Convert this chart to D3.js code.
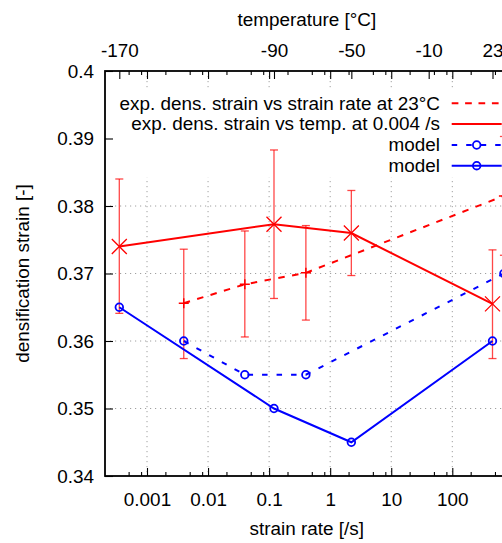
<!DOCTYPE html>
<html>
<head>
<meta charset="utf-8">
<script src="https://cdn.jsdelivr.net/npm/d3@7"></script>
<style>
  html, body { margin: 0; padding: 0; background: #fff; overflow: hidden; }
  svg { display: block; }
  text { font-family: "Liberation Sans", Arial, sans-serif; }
</style>
</head>
<body>
<svg id="chart" width="502" height="543"></svg>
<script>
// ---- data ----
const strainRates   = [0.004, 0.04, 0.4, 700];
const rateExp       = [0.3656, 0.3684, 0.3701, 0.3815];
const rateExpLow    = [0.3574, 0.3606, 0.3631, 0.3727];
const rateExpHigh   = [0.3736, 0.3763, 0.3771, 0.3903];
const rateModel     = [0.360, 0.355, 0.355, 0.370];

const temperatures  = [-170, -90, -50, 23];
const tempExp       = [0.3740, 0.3773, 0.3760, 0.3655];
const tempExpLow    = [0.3641, 0.3663, 0.3697, 0.3574];
const tempExpHigh   = [0.3840, 0.3883, 0.3823, 0.3735];
const tempModel     = [0.365, 0.350, 0.345, 0.360];

const xTickValues   = [0.001, 0.01, 0.1, 1, 10, 100];
const xTickLabels   = ["0.001", "0.01", "0.1", "1", "10", "100"];
const xMinorTicks   = [0.0005, 0.0008, 0.002, 0.005, 0.008, 0.02, 0.05, 0.08,
                       0.2, 0.5, 0.8, 2, 5, 8, 20, 50, 80, 200, 500];
const x2TickValues  = [-170, -90, -50, -10, 23];
const x2TickLabels  = ["-170", "-90", "-50", "-10", "23"];
const yTickValues   = [0.34, 0.35, 0.36, 0.37, 0.38, 0.39, 0.40];
const yTickLabels   = ["0.34", "0.35", "0.36", "0.37", "0.38", "0.39", "0.4"];

const legendLabels  = ["exp. dens. strain vs strain rate at 23°C",
                       "exp. dens. strain vs temp. at 0.004 /s",
                       "model", "model"];

// ---- layout ----
const P = { left: 105, right: 508.5, top: 71, bottom: 476 };
const FS = "18.9px";
const RED = "#ff0000", BLUE = "#0000ff";

const svg = d3.select("#chart");

const x  = d3.scaleLog().domain([1e-3, 100]).range([147, 452.3]);
const x2 = d3.scaleLinear().domain([-170, 23]).range([119.3, 492.5]);
const y  = d3.scaleLinear().domain([0.34, 0.40]).range([P.bottom, P.top]);

// ---- grid ----
const grid = svg.append("g").attr("stroke", "#a0a0a0").attr("stroke-width", 1)
  .attr("stroke-dasharray", "1.2,3.8");
grid.selectAll("line.v").data(xTickValues).join("line").attr("class", "v")
  .attr("x1", d => x(d)).attr("x2", d => x(d)).attr("y1", P.top).attr("y2", P.bottom);
grid.selectAll("line.h").data(yTickValues.slice(1, -1)).join("line").attr("class", "h")
  .attr("x1", P.left).attr("x2", P.right).attr("y1", d => y(d)).attr("y2", d => y(d));

// ---- legend background (opaque key) ----
svg.append("rect").attr("x", 108).attr("y", 90).attr("width", 400).attr("height", 87)
  .attr("fill", "#fff");

// ---- error bars ----
function errorBars(g, xs, lows, highs) {
  const cap = 4;
  xs.forEach((xv, i) => {
    g.append("line").attr("x1", xv).attr("x2", xv).attr("y1", y(lows[i])).attr("y2", y(highs[i]));
    g.append("line").attr("x1", xv - cap).attr("x2", xv + cap).attr("y1", y(lows[i])).attr("y2", y(lows[i]));
    g.append("line").attr("x1", xv - cap).attr("x2", xv + cap).attr("y1", y(highs[i])).attr("y2", y(highs[i]));
  });
}
const eb = svg.append("g").attr("stroke", RED).attr("stroke-width", 1.3).attr("stroke-opacity", 0.72);
errorBars(eb, strainRates.map(d => x(d)), rateExpLow, rateExpHigh);
errorBars(eb, temperatures.map(d => x2(d)), tempExpLow, tempExpHigh);

// ---- lines ----
const line = d3.line();
const ptsRate = (vals) => strainRates.map((d, i) => [x(d), y(vals[i])]);
const ptsTemp = (vals) => temperatures.map((d, i) => [x2(d), y(vals[i])]);

svg.append("path").attr("d", line(ptsRate(rateExp))).attr("fill", "none")
  .attr("stroke", RED).attr("stroke-width", 2).attr("stroke-dasharray", "6.5,7.5");
svg.append("path").attr("d", line(ptsTemp(tempExp))).attr("fill", "none")
  .attr("stroke", RED).attr("stroke-width", 2);
svg.append("path").attr("d", line(ptsRate(rateModel))).attr("fill", "none")
  .attr("stroke", BLUE).attr("stroke-width", 2).attr("stroke-dasharray", "5.5,9");
svg.append("path").attr("d", line(ptsTemp(tempModel))).attr("fill", "none")
  .attr("stroke", BLUE).attr("stroke-width", 2);

// ---- markers ----
const mk = svg.append("g");
ptsRate(rateExp).forEach(([px, py]) => {
  const s = 5;
  mk.append("path").attr("d", `M${px - s},${py}H${px + s}M${px},${py - s}V${py + s}`)
    .attr("stroke", RED).attr("stroke-width", 1.5).attr("fill", "none");
});
ptsTemp(tempExp).forEach(([px, py]) => {
  const s = 7.5;
  mk.append("path").attr("d", `M${px - s},${py - s}L${px + s},${py + s}M${px - s},${py + s}L${px + s},${py - s}`)
    .attr("stroke", RED).attr("stroke-width", 1.3).attr("fill", "none");
});
[...ptsRate(rateModel), ...ptsTemp(tempModel)].forEach(([px, py]) => {
  mk.append("circle").attr("cx", px).attr("cy", py).attr("r", 3.8)
    .attr("fill", "none").attr("stroke", BLUE).attr("stroke-width", 1.8);
});

// ---- border ----
svg.append("rect").attr("x", P.left).attr("y", P.top)
  .attr("width", P.right - P.left).attr("height", P.bottom - P.top)
  .attr("fill", "none").attr("stroke", "#000").attr("stroke-width", 1.8);

// ---- axes ----
function styleAxis(g) {
  g.select(".domain").remove();
  g.attr("font-size", null).attr("font-family", null);
  g.selectAll(".tick line").attr("stroke", "#000").attr("stroke-width", 1.1);
  g.selectAll(".tick text").attr("fill", "#000").style("font-size", FS);
  return g;
}
// bottom
styleAxis(svg.append("g").attr("transform", `translate(0,${P.bottom})`)
  .call(d3.axisBottom(x).tickValues(xTickValues).tickFormat((d, i) => xTickLabels[i])
    .tickSize(-8).tickSizeOuter(0)))
  .selectAll(".tick text").attr("y", 29.7).attr("dy", null);
styleAxis(svg.append("g").attr("transform", `translate(0,${P.bottom})`)
  .call(d3.axisBottom(x).tickValues(xMinorTicks).tickFormat("").tickSize(-4).tickSizeOuter(0)));
// top mirror of bottom
styleAxis(svg.append("g").attr("transform", `translate(0,${P.top})`)
  .call(d3.axisTop(x).tickValues(xTickValues).tickFormat("").tickSize(-8).tickSizeOuter(0)));
styleAxis(svg.append("g").attr("transform", `translate(0,${P.top})`)
  .call(d3.axisTop(x).tickValues(xMinorTicks).tickFormat("").tickSize(-4).tickSizeOuter(0)));
// top temperature axis
styleAxis(svg.append("g").attr("transform", `translate(0,${P.top})`)
  .call(d3.axisTop(x2).tickValues(x2TickValues).tickFormat((d, i) => x2TickLabels[i])
    .tickSize(-8).tickPadding(14).tickSizeOuter(0)));
// left
styleAxis(svg.append("g").attr("transform", `translate(${P.left},0)`)
  .call(d3.axisLeft(y).tickValues(yTickValues).tickFormat((d, i) => yTickLabels[i])
    .tickSize(-8).tickPadding(11).tickSizeOuter(0)))
  .selectAll(".tick text").attr("dy", "0.33em");

// ---- axis titles ----
svg.append("text").attr("x", 306.8).attr("y", 26).attr("text-anchor", "middle")
  .style("font-size", FS).text("temperature [°C]");
svg.append("text").attr("x", 306.7).attr("y", 535).attr("text-anchor", "middle")
  .style("font-size", FS).text("strain rate [/s]");
svg.append("text").attr("transform", `translate(29,${(P.top + P.bottom) / 2}) rotate(-90)`)
  .attr("text-anchor", "middle").style("font-size", FS).text("densification strain [-]");

// ---- legend ----
const lg = svg.append("g");
const rowY = [103.3, 124, 145, 165.7];
const sx1 = 451.7, sx2 = 501.7, textX = 440;
const sampleStyles = [
  { color: RED,  dash: "6.7,6.7", circle: false },
  { color: RED,  dash: null,      circle: false },
  { color: BLUE, dash: "5.5,9",   circle: true  },
  { color: BLUE, dash: null,      circle: true  }
];
legendLabels.forEach((lab, i) => {
  lg.append("text").attr("x", textX).attr("y", rowY[i] + 6.2).attr("text-anchor", "end")
    .style("font-size", FS).text(lab);
  const s = sampleStyles[i];
  lg.append("line").attr("x1", sx1).attr("x2", sx2).attr("y1", rowY[i]).attr("y2", rowY[i])
    .attr("stroke", s.color).attr("stroke-width", 2)
    .attr("stroke-dasharray", s.dash);
  if (s.circle) {
    lg.append("circle").attr("cx", (sx1 + sx2) / 2).attr("cy", rowY[i]).attr("r", 3.8)
      .attr("fill", "none").attr("stroke", s.color).attr("stroke-width", 1.8);
  }
});
</script>
</body>
</html>
